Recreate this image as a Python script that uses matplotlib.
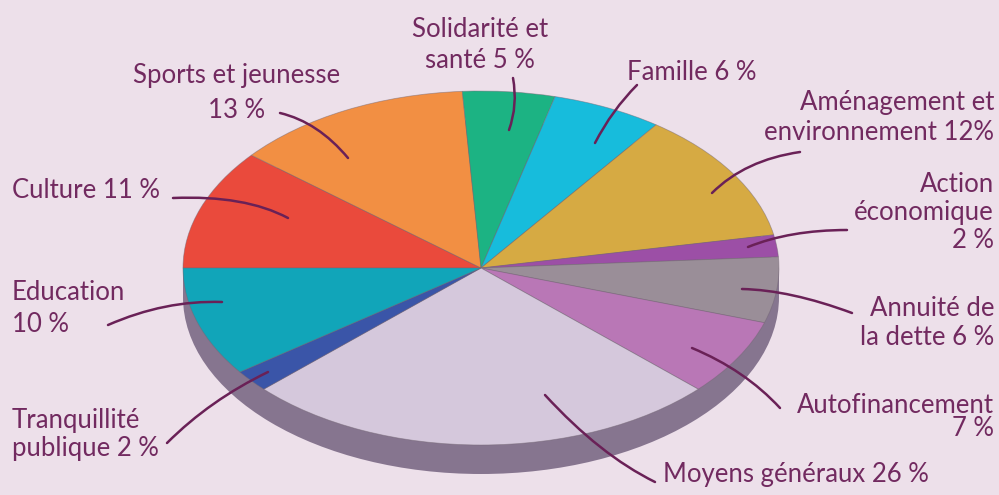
import matplotlib
import matplotlib.pyplot as plt
from matplotlib.patches import Ellipse, Rectangle, PathPatch
from matplotlib.path import Path

matplotlib.use("Agg")

# budget shares, clockwise from the left horizontal
labels = [
    "Culture", "Sports et jeunesse", "Solidarité et santé", "Famille",
    "Aménagement et environnement", "Action économique", "Annuité de la dette",
    "Autofinancement", "Moyens généraux", "Tranquillité publique", "Education",
]
shares = [11, 13, 5, 6, 12, 2, 6, 7, 26, 2, 10]
label_texts = [
    "Culture 11\u202f%",
    "Sports et jeunesse\n13\u202f%",
    "Solidarité et\nsanté 5\u202f%",
    "Famille 6\u202f%",
    "Aménagement et\nenvironnement 12%",
    "Action\néconomique\n2\u202f%",
    "Annuité de\nla dette 6\u202f%",
    "Autofinancement\n7\u202f%",
    "Moyens généraux 26\u202f%",
    "Tranquillité\npublique 2\u202f%",
    "Education\n10\u202f%",
]
colors = [
    "#EA4A3C", "#F28F43", "#1CB383", "#17BCDC", "#D6AA43", "#9C4FA6",
    "#9A8E98", "#B977B6", "#D5C8DC", "#3A55A8", "#11A5B9",
]

BG = "#EDE0EA"
SIDE = "#86758F"
INK = "#722A60"
LEAD = "#6A2157"

# layout in image pixels: (x, first baseline, line gap, ha)
label_pos = [
    (12, 198, 0, "left"),
    (237, 83, 35, "center"),
    (480, 37, 31, "center"),
    (692, 80, 0, "center"),
    (994, 110, 30, "right"),
    (994, 192, 28, "right"),
    (994, 316, 29, "right"),
    (994, 413, 23, "right"),
    (663, 482, 0, "left"),
    (12, 428, 28, "left"),
    (12, 300, 32, "left"),
]
# leader curves: start, control, end (image pixels)
leaders = [
    [(173, 198), (245, 195), (288, 218)],
    [(280, 113), (318, 122), (348, 158)],
    [(513, 78), (518, 105), (509, 130)],
    [(637, 85), (612, 110), (595, 143)],
    [(800, 152), (745, 160), (712, 193)],
    [(847, 230), (790, 230), (748, 247)],
    [(742, 289), (790, 290), (852, 313)],
    [(780, 408), (745, 370), (692, 348)],
    [(655, 482), (600, 455), (545, 395)],
    [(167, 443), (210, 400), (268, 372)],
    [(108, 325), (165, 300), (222, 302)],
]

W, H = 999, 495
cx, cy, a, b, depth = 481, 268, 298, 177, 29

fig = plt.figure(figsize=(W / 100, H / 100), dpi=100)
fig.patch.set_facecolor(BG)

pax = fig.add_axes([(cx - a) / W, (H - cy - b - depth) / H, 2 * a / W, (2 * b + depth) / H])
pax.set_zorder(1)
pax.axis("off")
d = depth / b
pax.add_patch(Ellipse((0, -d), 2, 2, facecolor=SIDE, edgecolor="none"))
pax.add_patch(Rectangle((-1, -d), 2, d, facecolor=SIDE, edgecolor="none"))
pax.pie(
    shares,
    colors=colors,
    startangle=180,
    counterclock=False,
    radius=1,
    center=(0, 0),
    wedgeprops=dict(edgecolor=(0.45, 0.4, 0.45, 0.5), linewidth=0.6),
)
pax.set_aspect("auto")
pax.set_xlim(-1, 1)
pax.set_ylim(-1 - d, 1)

ax = fig.add_axes([0, 0, 1, 1])
ax.set_zorder(3)
ax.patch.set_alpha(0)
ax.set_xlim(0, W)
ax.set_ylim(H, 0)
ax.axis("off")

for text, (x, y0, gap, ha) in zip(label_texts, label_pos):
    for i, line in enumerate(text.split("\n")):
        ax.text(x, y0 + i * gap, line, ha=ha, va="baseline", fontsize=18.5,
                family=["Lato", "DejaVu Sans"], color=INK)

for pts in leaders:
    path = Path(pts, [Path.MOVETO, Path.CURVE3, Path.CURVE3])
    ax.add_patch(PathPatch(path, facecolor="none", edgecolor=LEAD, lw=1.8, capstyle="round"))

fig.savefig("out.png", dpi=100, facecolor=BG)
